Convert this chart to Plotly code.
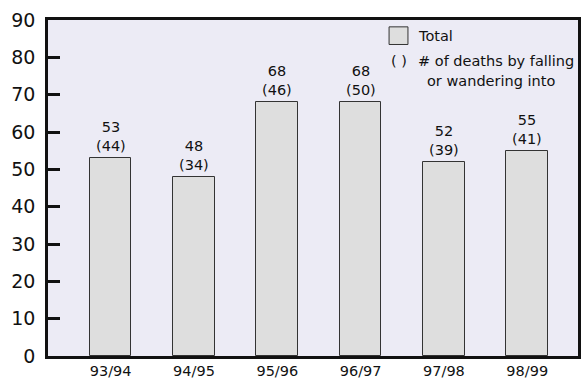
import plotly.graph_objects as go

# Fiscal years and counts
seasons = ["93/94", "94/95", "95/96", "96/97", "97/98", "98/99"]
total_deaths = [53, 48, 68, 68, 52, 55]
falling_deaths = [44, 34, 46, 50, 39, 41]
y_ticks = [0, 10, 20, 30, 40, 50, 60, 70, 80, 90]

FONT = "DejaVu Sans"
W, H = 587, 385
ML, MR, MT, MB = 48, 6, 20, 22
PW, PH = W - ML - MR, H - MT - MB


def px_x(p):
    return (p - ML) / PW


def px_y(p):
    return (H - MB - p) / PH


xs = list(range(len(seasons)))

fig = go.Figure()
fig.add_trace(go.Bar(
    x=xs,
    y=total_deaths,
    width=0.5,
    marker=dict(color="#dedede", line=dict(color="#333333", width=1)),
    hoverinfo="skip",
    showlegend=False,
))

# Value labels above each bar: total with falling/wandering count in parentheses
for x, t, f in zip(xs, total_deaths, falling_deaths):
    fig.add_annotation(
        x=x, y=t, xref="x", yref="y",
        text=f"{t}<br>({f})",
        showarrow=False, yanchor="bottom", yshift=2,
        font=dict(family=FONT, size=14.5, color="#111111"),
    )

# Title line running off the top edge
fig.add_annotation(
    x=px_x(54), y=px_y(2), xref="paper", yref="paper",
    xanchor="left", yanchor="bottom",
    text="<b>Drowning in farm ponds</b>",
    showarrow=False,
    font=dict(family=FONT, size=13, color="#1f4fb0"),
)

# Key in the upper right
fig.add_shape(
    type="rect", xref="paper", yref="paper",
    x0=px_x(391), x1=px_x(410), y0=px_y(45), y1=px_y(27),
    fillcolor="#dedede", line=dict(color="#333333", width=1),
)
key_texts = [
    ("Total", 418, 36),
    ("( )", 391, 62),
    ("# of deaths by falling", 418, 62),
    ("or wandering into", 427, 82),
]
for txt, lx, cy in key_texts:
    fig.add_annotation(
        x=px_x(lx), y=px_y(cy), xref="paper", yref="paper",
        xanchor="left", yanchor="middle", text=txt, showarrow=False,
        font=dict(family=FONT, size=14.5, color="#111111"),
    )

fig.update_layout(
    width=W, height=H,
    margin=dict(l=ML, r=MR, t=MT, b=MB, pad=0),
    paper_bgcolor="white",
    plot_bgcolor="#ecebf5",
    bargap=0,
    xaxis=dict(
        range=[-0.752, 5.609],
        tickvals=xs, ticktext=seasons,
        showgrid=False, zeroline=False,
        ticks="", showline=True, linecolor="#111111", linewidth=2.5, mirror=True,
        tickfont=dict(family=FONT, size=14.5, color="#111111"),
        fixedrange=True,
    ),
    yaxis=dict(
        range=[0, 90],
        tickvals=y_ticks,
        showgrid=False, zeroline=False,
        ticks="inside", ticklen=12, tickwidth=2.5, tickcolor="#111111",
        showline=True, linecolor="#111111", linewidth=2.5, mirror=True,
        ticklabelstandoff=6,
        tickfont=dict(family=FONT, size=19, color="#111111"),
        fixedrange=True,
    ),
)

fig.write_html("out.html", config={"displayModeBar": False})
